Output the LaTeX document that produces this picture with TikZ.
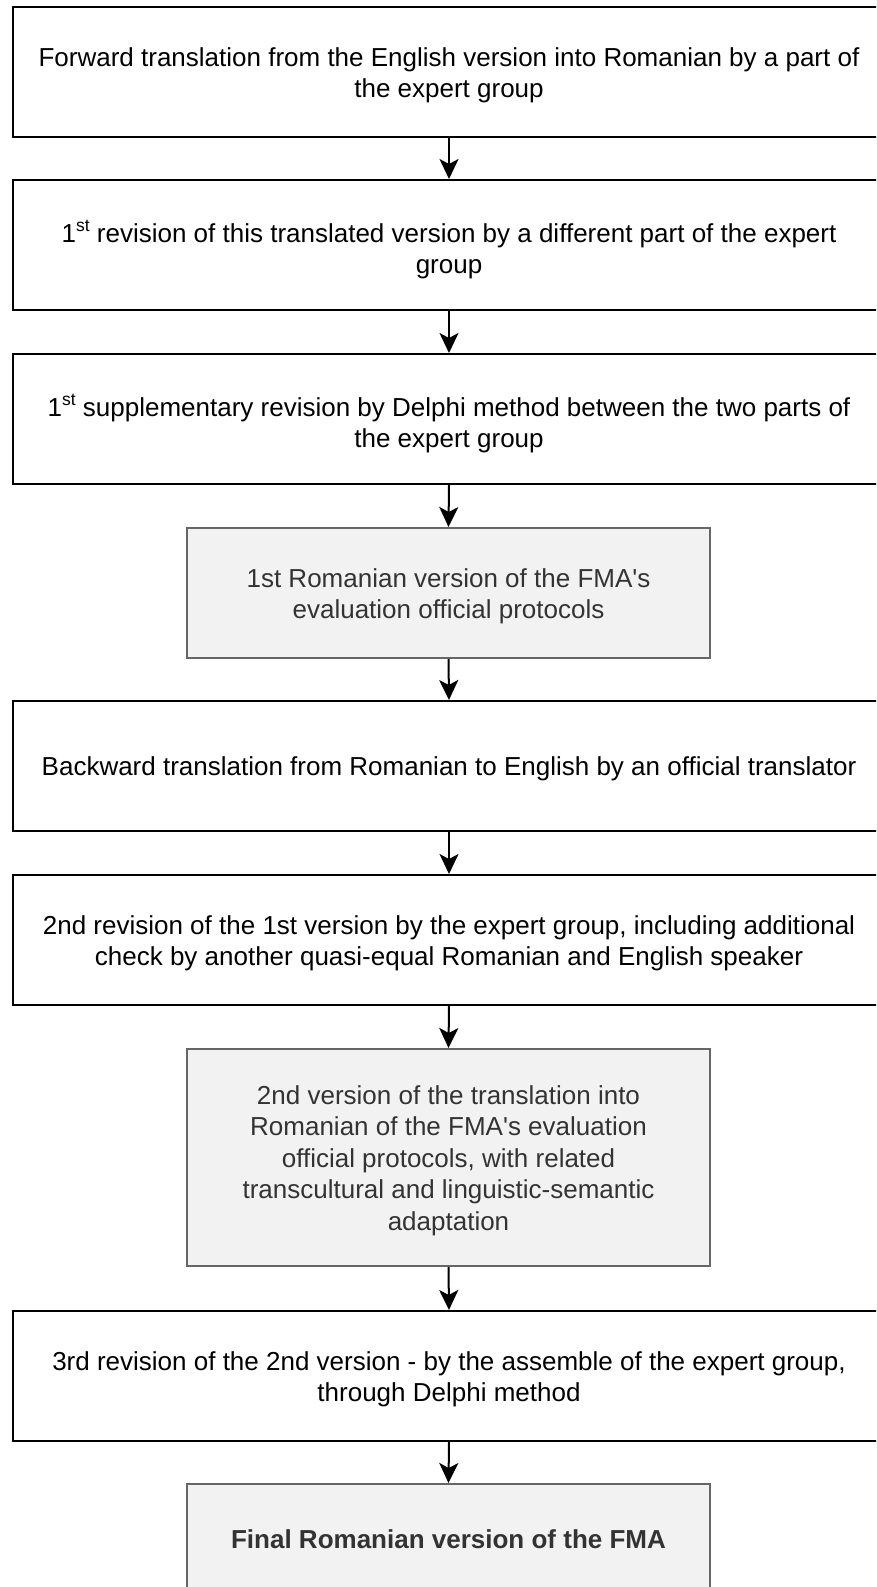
\documentclass[tikz,border=0pt]{standalone}
\usepackage{fontspec}
\setmainfont{Liberation Sans}
\usetikzlibrary{arrows.meta}
\definecolor{grayfill}{HTML}{F2F2F2}
\definecolor{grayline}{HTML}{666666}
\definecolor{graytext}{HTML}{333333}
\newcommand{\supst}[1]{\raisebox{11pt}{\fontsize{17.5}{17.5}\selectfont #1}}
\newcommand{\tp}{\rule{0pt}{25pt}}
\newcommand{\tpsup}{\rule{0pt}{31pt}}
\tikzset{
  whitebox/.style={draw=black, line width=2pt, fill=white, minimum width=872pt, inner sep=0pt, align=center, font=\fontsize{26}{31.5}\selectfont, text=black},
  graybox/.style={draw=grayline, line width=2pt, fill=grayfill, minimum width=523pt, inner sep=0pt, align=center, font=\fontsize{26}{31.5}\selectfont, text=graytext},
  flow/.style={line width=2pt, -{Stealth[length=20pt,width=19pt,inset=5pt]}}
}
\begin{document}
\begin{tikzpicture}[x=1pt,y=-1pt]
\useasboundingbox (0,0) rectangle (876,1587);
\begin{scope}
\clip (0,0) rectangle (876,1587);
\node[whitebox, minimum height=130pt] (b1) at (449,72) {\tp Forward translation from the English version into Romanian by a part of\\the expert group};
\node[whitebox, minimum height=130pt] (b2) at (449,245) {\tpsup 1\supst{st} revision of this translated version by a different part of the expert\\group};
\node[whitebox, minimum height=130pt] (b3) at (449,419) {\tpsup 1\supst{st} supplementary revision by Delphi method between the two parts of\\the expert group};
\node[graybox, minimum height=130pt] (g1) at (448.5,593) {\tp 1st Romanian version of the FMA\textquotesingle s\\evaluation official protocols};
\node[whitebox, minimum height=130pt] (b4) at (449,766) {\tp Backward translation from Romanian to English by an official translator};
\node[whitebox, minimum height=130pt] (b5) at (449,940) {\tp 2nd revision of the 1st version by the expert group, including additional\\check by another quasi-equal Romanian and English speaker};
\node[graybox, minimum height=217pt] (g2) at (448.5,1157.5) {\tp 2nd version of the translation into\\Romanian of the FMA\textquotesingle s evaluation\\official protocols, with related\\transcultural and linguistic-semantic\\adaptation};
\node[whitebox, minimum height=130pt] (b6) at (449,1376) {\tp 3rd revision of the 2nd version - by the assemble of the expert group,\\through Delphi method};
\node[graybox, minimum height=110pt] (g3) at (448.5,1539) {\bfseries Final Romanian version of the FMA};
\end{scope}
\draw[flow] (b1.south) -- (b2.north);
\draw[flow] (b2.south) -- (b3.north);
\draw[flow] (b3.south) -- (g1.north);
\draw[flow] (g1.south) -- (b4.north);
\draw[flow] (b4.south) -- (b5.north);
\draw[flow] (b5.south) -- (g2.north);
\draw[flow] (g2.south) -- (b6.north);
\draw[flow] (b6.south) -- (g3.north);
\end{tikzpicture}
\end{document}
